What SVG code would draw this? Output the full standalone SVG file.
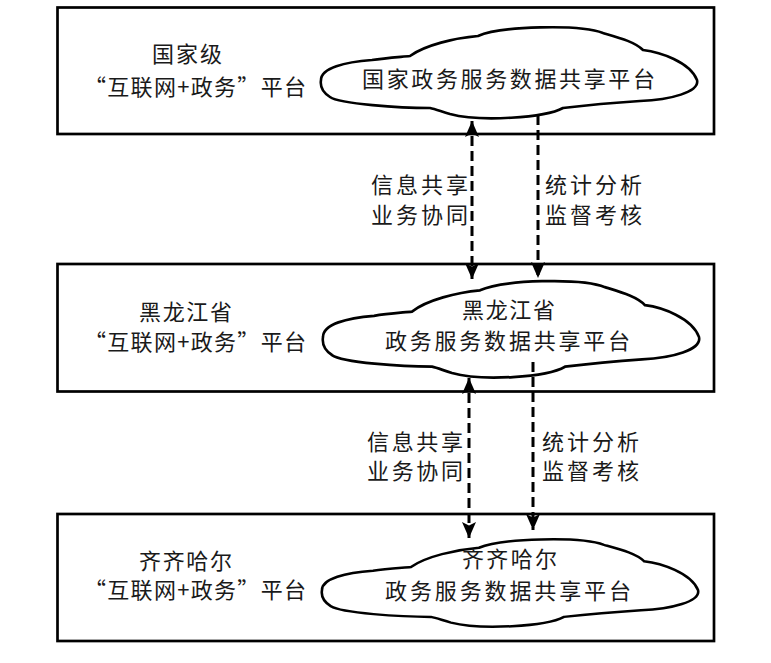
<svg xmlns="http://www.w3.org/2000/svg" width="771" height="663" viewBox="0 0 771 663">
  <style>
    .box { fill: #ffffff; stroke: #000000; stroke-width: 2.7; }
    .cloud { fill: #ffffff; stroke: #000000; stroke-width: 2.6; vector-effect: non-scaling-stroke; }
    .t { font-family: "Noto Sans CJK SC", "Noto Sans", sans-serif; font-size: 22px; fill: #1a1a1a; }
    .conn { stroke: #000000; stroke-width: 3; stroke-dasharray: 10 5; fill: none; }
  </style>
  <defs>
    <marker id="arrow" viewBox="0 0 16 14" refX="16" refY="7" markerWidth="16" markerHeight="14" markerUnits="userSpaceOnUse" orient="auto-start-reverse">
      <path d="M0,0 L16,7 L0,14 L3.5,7 Z" fill="#000000"/>
    </marker>
    <path id="cloudShape" d="M 321,0 C 321,-12 345,-18 372,-20 C 385,-22 400,-23 410,-24 C 425,-35 455,-42 478,-44 C 500,-54 580,-56 603,-47 C 620,-42 635,-38 643,-30 C 660,-28 690,-18 697,0 C 700,12 670,20 640,21 C 610,23 580,26 563,28 C 545,38 480,42 450,34 C 440,31 435,29 430,28 C 400,28 340,24 330,17 C 322,12 320,6 321,0 Z"/>
  </defs>
  <rect x="0" y="0" width="771" height="663" fill="#ffffff"/>

  <g id="national">
    <rect class="box" x="57.5" y="7.5" width="656.5" height="126.5"/>
    <text class="t" x="152" y="62" textLength="70" lengthAdjust="spacing">国家级</text>
    <text class="t" x="84" y="95" textLength="222" lengthAdjust="spacing">“互联网+政务”平台</text>
    <g id="national-cloud">
      <use href="#cloudShape" class="cloud" transform="translate(0,80)"/>
      <text class="t" x="362" y="87" textLength="293" lengthAdjust="spacing">国家政务服务数据共享平台</text>
    </g>
  </g>

  <g id="heilongjiang">
    <rect class="box" x="57.5" y="264" width="656.5" height="127.5"/>
    <text class="t" x="139" y="320" textLength="93" lengthAdjust="spacing">黑龙江省</text>
    <text class="t" x="84" y="350" textLength="222" lengthAdjust="spacing">“互联网+政务”平台</text>
    <g id="heilongjiang-cloud">
      <use href="#cloudShape" class="cloud" transform="translate(2,337) scale(1,1.06)"/>
      <text class="t" x="462" y="318" textLength="93" lengthAdjust="spacing">黑龙江省</text>
      <text class="t" x="385" y="349" textLength="245" lengthAdjust="spacing">政务服务数据共享平台</text>
    </g>
  </g>

  <g id="qiqihar">
    <rect class="box" x="57.5" y="514" width="656.5" height="127"/>
    <text class="t" x="139" y="569" textLength="93" lengthAdjust="spacing">齐齐哈尔</text>
    <text class="t" x="84" y="598" textLength="222" lengthAdjust="spacing">“互联网+政务”平台</text>
    <g id="qiqihar-cloud">
      <use href="#cloudShape" class="cloud" transform="translate(1,590) scale(1,0.96)"/>
      <text class="t" x="462" y="567" textLength="95" lengthAdjust="spacing">齐齐哈尔</text>
      <text class="t" x="385" y="599" textLength="246" lengthAdjust="spacing">政务服务数据共享平台</text>
    </g>
  </g>

  <g id="connectors">
    <line class="conn" x1="472" y1="121" x2="472" y2="279" marker-start="url(#arrow)" marker-end="url(#arrow)"/>
    <line class="conn" x1="538" y1="115" x2="538" y2="278" marker-end="url(#arrow)"/>
    <line class="conn" x1="469" y1="378" x2="469" y2="538" marker-start="url(#arrow)" marker-end="url(#arrow)"/>
    <line class="conn" x1="533" y1="362" x2="533" y2="530" marker-end="url(#arrow)"/>
    <g id="connector-labels">
      <text class="t" x="371" y="193" textLength="97" lengthAdjust="spacing">信息共享</text>
      <text class="t" x="371" y="223" textLength="97" lengthAdjust="spacing">业务协同</text>
      <text class="t" x="545" y="193" textLength="97" lengthAdjust="spacing">统计分析</text>
      <text class="t" x="545" y="223" textLength="97" lengthAdjust="spacing">监督考核</text>
      <text class="t" x="367" y="450" textLength="96" lengthAdjust="spacing">信息共享</text>
      <text class="t" x="367" y="479" textLength="96" lengthAdjust="spacing">业务协同</text>
      <text class="t" x="542" y="450" textLength="97" lengthAdjust="spacing">统计分析</text>
      <text class="t" x="542" y="479" textLength="97" lengthAdjust="spacing">监督考核</text>
    </g>
  </g>
</svg>
